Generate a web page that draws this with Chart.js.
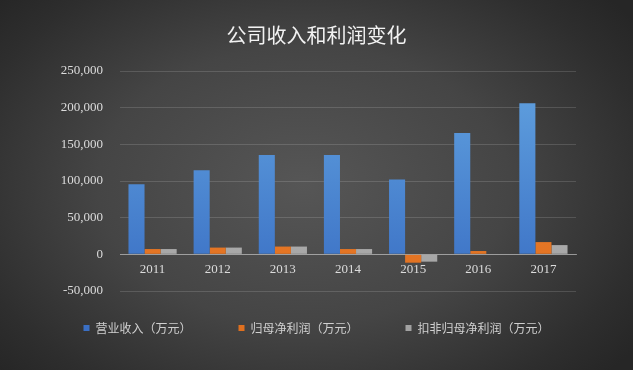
<!DOCTYPE html>
<html>
<head>
<meta charset="utf-8">
<script src="https://cdn.jsdelivr.net/npm/chart.js@4.4.0/dist/chart.umd.min.js"></script>
<style>
  html, body { margin: 0; padding: 0; }
  body {
    width: 633px; height: 370px; overflow: hidden;
    background: radial-gradient(ellipse 65% 75% at 48% 50%, #565656 0%, #454545 50%, #2e2e2e 85%, #262626 100%);
  }
  #wrap { position: relative; width: 633px; height: 370px; }
</style>
</head>
<body>
<div id="wrap"><canvas id="profitChart"></canvas></div>
<script>
// chart data
const years = ['2011', '2012', '2013', '2014', '2015', '2016', '2017'];
const revenue = [95500, 114800, 135600, 135600, 102000, 165500, 206000];
const netProfit = [7200, 9200, 10600, 7200, -11400, 4500, 16700];
const deductedProfit = [7200, 9200, 10600, 7200, -10000, 0, 12600];
const yTicks = [-50000, 0, 50000, 100000, 150000, 200000, 250000];

const serif = '"Liberation Serif", "DejaVu Serif", serif';
const cjk = '"Noto Sans CJK SC", sans-serif';

// vertical gradient fill for bars
function barFill(top, bottom) {
    return function(context) {
        const area = context.chart.chartArea;
        if (!area) return bottom;
        const g = context.chart.ctx.createLinearGradient(0, area.top, 0, area.bottom);
        g.addColorStop(0, top);
        g.addColorStop(1, bottom);
        return g;
    };
}

// pull the legend row up, the wide item spacing also pads it vertically
const legendShift = {
    id: 'legendShift',
    afterLayout(chart) {
        chart.legend.top -= 16;
        chart.legend.bottom -= 16;
    }
};

const ctx = document.getElementById('profitChart').getContext('2d');
new Chart(ctx, {
    type: 'bar',
    data: {
        labels: years,
        datasets: [{
            label: '营业收入（万元）',
            data: revenue,
            backgroundColor: barFill('#62a3e0', '#3a6fc4')
        }, {
            label: '归母净利润（万元）',
            data: netProfit,
            backgroundColor: barFill('#f58a3a', '#e0701f')
        }, {
            label: '扣非归母净利润（万元）',
            data: deductedProfit,
            backgroundColor: barFill('#c4c4c4', '#a2a2a2')
        }]
    },
    plugins: [legendShift],
    options: {
        responsive: true,
        maintainAspectRatio: false,
        animation: false,
        layout: {
            padding: { left: 0, right: 0, top: 0, bottom: 10 }
        },
        datasets: {
            bar: {
                categoryPercentage: 0.74,
                barPercentage: 1.0
            }
        },
        plugins: {
            title: {
                display: true,
                text: '公司收入和利润变化',
                color: '#f2f2f2',
                font: { family: cjk, size: 20, weight: 'normal' },
                padding: { top: 23, bottom: 24 }
            },
            legend: {
                position: 'bottom',
                labels: {
                    color: '#d0d0d0',
                    font: { family: cjk, size: 12 },
                    boxWidth: 6,
                    boxHeight: 6,
                    padding: 47
                }
            },
            tooltip: { enabled: false }
        },
        scales: {
            x: {
                position: { y: 0 },
                grid: { display: false, drawTicks: false },
                border: { color: 'rgba(210,210,210,0.55)', width: 1 },
                ticks: {
                    color: '#dcdcdc',
                    font: { family: serif, size: 13 },
                    padding: 7
                }
            },
            y: {
                min: -50000,
                max: 250000,
                afterFit: function(scale) { scale.width = 120; },
                afterBuildTicks: function(scale) {
                    scale.ticks = yTicks.map(v => ({ value: v }));
                },
                grid: {
                    color: 'rgba(255,255,255,0.14)',
                    drawTicks: false
                },
                border: { display: false },
                ticks: {
                    color: '#dcdcdc',
                    font: { family: serif, size: 13 },
                    padding: 17,
                    callback: function(v) { return v.toLocaleString('en-US'); }
                }
            },
            // empty right axis, only keeps the right margin so title and legend stay centred
            yRight: {
                position: 'right',
                afterFit: function(scale) { scale.width = 57; },
                grid: { display: false, drawTicks: false },
                border: { display: false },
                ticks: { display: false }
            }
        }
    }
});
</script>
</body>
</html>
